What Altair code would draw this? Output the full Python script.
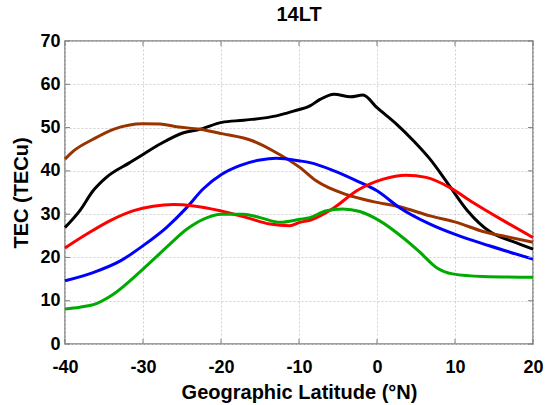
import altair as alt
import pandas as pd

# TEC profiles along geographic latitude at 14 LT
black_lat = [-40, -38.1, -36.4, -34.7, -31.7, -30, -27.8, -24.8, -22.7, -19.9, -17.1, -12.9, -10.7,
             -8.6, -7.3, -5.5, -3.4, -1.8, 0, 2.5, 4.7, 6.8, 9, 11.6, 14.6, 17.2, 20]
black_tec = [26.9, 30.8, 35.4, 38.5, 41.9, 43.8, 46.2, 48.8, 49.6, 51.2, 51.7, 52.7, 53.8,
             55.0, 56.5, 57.7, 57.1, 57.5, 54.6, 50.8, 46.9, 42.7, 37.3, 30.8, 25.8, 23.8, 21.9]

brown_lat = [-40, -38.9, -36.4, -33.8, -30, -27.8, -25.7, -22.7, -19.9, -15.9, -13.3, -9.9,
             -7.8, -3.9, -0.5, 2.9, 6.8, 10.2, 13.6, 16.6, 20]
brown_tec = [42.7, 44.6, 47.3, 49.6, 50.9, 50.8, 50.2, 49.6, 48.6, 46.9, 44.6, 40.8,
             37.7, 34.5, 32.9, 31.7, 29.6, 28.1, 26.0, 24.8, 23.5]

blue_lat = [-40, -36.4, -32.9, -30, -27, -24.4, -22.3, -19.9, -17.6, -15, -12.9, -9.9,
            -8.6, -5.5, -2.6, 0, 2.9, 6.8, 10.2, 14.4, 20]
blue_tec = [14.6, 16.5, 19.2, 22.7, 26.9, 31.5, 35.8, 39.2, 41.2, 42.5, 42.9, 42.3,
            41.9, 40.0, 37.7, 35.4, 31.5, 27.7, 25.2, 22.7, 19.6]

red_lat = [-40, -37.2, -34.2, -31.2, -28.7, -26.1, -23.5, -20.1, -16.7, -13.7, -11.2, -9.9,
           -8.6, -5.5, -2.6, 0.8, 3.7, 6.3, 9.3, 12.3, 16.2, 20]
red_tec = [22.2, 25.4, 28.5, 30.8, 31.8, 32.2, 31.9, 30.8, 29.2, 27.7, 27.3, 28.1,
           28.6, 31.5, 35.4, 38.1, 39.0, 38.5, 36.2, 32.7, 28.5, 24.6]

green_lat = [-40, -38.1, -35.9, -33.8, -30, -27, -24.4, -22.3, -19.9, -17.1, -15, -12.4, -9.9,
             -8.6, -6.5, -4.4, -2.2, 0.3, 3.3, 5.5, 7.6, 9.7, 13.6, 20]
green_tec = [8.1, 8.5, 9.4, 11.5, 17.3, 22.3, 26.5, 28.8, 30.0, 30.0, 29.2, 28.1, 28.8,
             29.2, 30.8, 31.2, 30.6, 28.5, 24.6, 21.2, 17.7, 16.2, 15.6, 15.4]

series_names = ["green", "red", "blue", "brown", "black"]
series_colors = ["#00AA00", "#FF0000", "#0000FF", "#993300", "#000000"]
series_data = {
    "black": (black_lat, black_tec),
    "brown": (brown_lat, brown_tec),
    "blue": (blue_lat, blue_tec),
    "red": (red_lat, red_tec),
    "green": (green_lat, green_tec),
}

x_ticks = [-40, -30, -20, -10, 0, 10, 20]
y_ticks = [0, 10, 20, 30, 40, 50, 60, 70]

rows = []
for name, (lats, tecs) in series_data.items():
    for la, te in zip(lats, tecs):
        rows.append({"series": name, "lat": la, "tec": te})
df = pd.DataFrame(rows)

W, H = 468, 303
FONT = "Liberation Sans"

x_scale = alt.Scale(domain=[-40, 20], nice=False, zero=False)
y_scale = alt.Scale(domain=[0, 70], nice=False)

lines = alt.Chart(df).mark_line(strokeWidth=3, interpolate="monotone").encode(
    x=alt.X("lat:Q", scale=x_scale,
            axis=alt.Axis(values=x_ticks, title="Geographic Latitude (°N)", ticks=False,
                          domain=False, labelPadding=14, titlePadding=6, labelFlush=False,
                          labelExpr="'' + datum.value",
                          grid=True, gridDash=[2, 2], gridColor="#d0d0d0")),
    y=alt.Y("tec:Q", scale=y_scale,
            axis=alt.Axis(values=y_ticks, title="TEC (TECu)", ticks=False,
                          domain=False, labelPadding=5, titlePadding=8, labelFlush=False,
                          grid=True, gridDash=[2, 2], gridColor="#d0d0d0")),
    color=alt.Color("series:N", scale=alt.Scale(domain=series_names, range=series_colors),
                    legend=None),
    order=alt.Order("series:N"),
)

# inward tick marks on all four sides of the box
xt = pd.DataFrame({"v": x_ticks})
yt = pd.DataFrame({"v": y_ticks})
tick_color = "#808080"
tb = alt.Chart(xt).mark_rule(color=tick_color, strokeWidth=1).encode(
    x=alt.X("v:Q", scale=x_scale), y=alt.value(H), y2=alt.value(H - 5))
tt = alt.Chart(xt).mark_rule(color=tick_color, strokeWidth=1).encode(
    x=alt.X("v:Q", scale=x_scale), y=alt.value(0), y2=alt.value(5))
tl = alt.Chart(yt).mark_rule(color=tick_color, strokeWidth=1).encode(
    y=alt.Y("v:Q", scale=y_scale), x=alt.value(0), x2=alt.value(5))
tr = alt.Chart(yt).mark_rule(color=tick_color, strokeWidth=1).encode(
    y=alt.Y("v:Q", scale=y_scale), x=alt.value(W), x2=alt.value(W - 5))

chart = alt.layer(lines, tb, tt, tl, tr).properties(
    width=W, height=H,
    background="white",
    title=alt.TitleParams("14LT", font=FONT, fontSize=20, fontWeight="bold", color="#000",
                          anchor="middle", offset=7),
    autosize=alt.AutoSizeParams(type="none"),
    padding={"left": 65, "top": 41, "right": 12, "bottom": 61},
).configure_view(
    stroke="#808080", strokeWidth=1.5
).configure_axis(
    labelFont=FONT, labelFontSize=18, labelFontWeight="bold", labelColor="#000",
    titleFont=FONT, titleFontSize=20, titleFontWeight="bold", titleColor="#000",
)

chart.save("out.html", embed_options={"renderer": "svg", "actions": False})
